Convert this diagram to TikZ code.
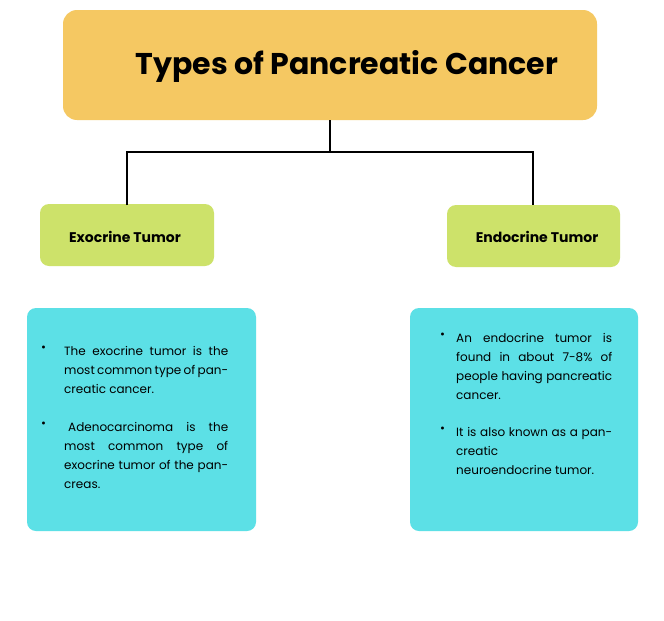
\documentclass[tikz,border=0pt]{standalone}
\usepackage{fontspec}
\setmainfont{Poppins}
\definecolor{orangebox}{HTML}{F5C862}
\definecolor{greenbox}{HTML}{CDE26A}
\definecolor{cyanbox}{HTML}{5CE0E6}
\tikzset{
  box/.style={rounded corners=9pt, draw=none},
  para/.style={anchor=north west, inner sep=0pt, text width=#1, align=justify, font=\fontsize{12}{19}\selectfont},
  bul/.style={anchor=north west, inner sep=0pt, font=\fontsize{12}{19}\selectfont},
  conn/.style={line width=2.5pt, black}
}
\begin{document}
\begin{tikzpicture}[x=1pt,y=-1pt]
\useasboundingbox (0,0) rectangle (664,621);
\fill[white] (0,0) rectangle (664,621);
\fill[box,fill=orangebox,rounded corners=14pt] (63,10) rectangle (597,120);
\node[font=\fontsize{30}{34}\selectfont\bfseries] (title) at (347,66) {Types of Pancreatic Cancer};
\coordinate (tb) at (330,120);
\fill[box,fill=greenbox] (40,204) rectangle (214,266);
\node[font=\fontsize{14}{16}\selectfont\bfseries] (exo) at (125,237) {Exocrine Tumor};
\fill[box,fill=greenbox] (447,205) rectangle (620,267);
\node[font=\fontsize{14}{16}\selectfont\bfseries] (endo) at (537,237) {Endocrine Tumor};
\coordinate (lt) at (127,205);
\coordinate (rt) at (533,205);
\draw[conn] (tb) -- (330,152) (lt) |- (330,152) -| (rt);
\fill[box,fill=cyanbox] (27,308) rectangle (256,531);
\fill[box,fill=cyanbox] (410,308) rectangle (638,531);
\node[bul] (b1) at (41,346) {•};
\node[para=164pt] (p1) at (64,346) {The exocrine tumor is the most common type of pancreatic cancer.};
\node[bul] (b2) at (41,422) {•};
\node[para=164pt] (p2) at (64,422) {\hspace{4pt}Adenocarcinoma is the most common type of exocrine tumor of the pancreas.};
\node[bul] (b3) at (440,333) {•};
\node[para=156pt] (p3) at (456,333) {An endocrine tumor is found in about 7-8\% of people having pancreatic cancer.};
\node[bul] (b4) at (440,427) {•};
\node[para=156pt] (p4) at (456,427) {It is also known as a pancreatic\\ neuroendocrine tumor.};
\end{tikzpicture}
\end{document}
